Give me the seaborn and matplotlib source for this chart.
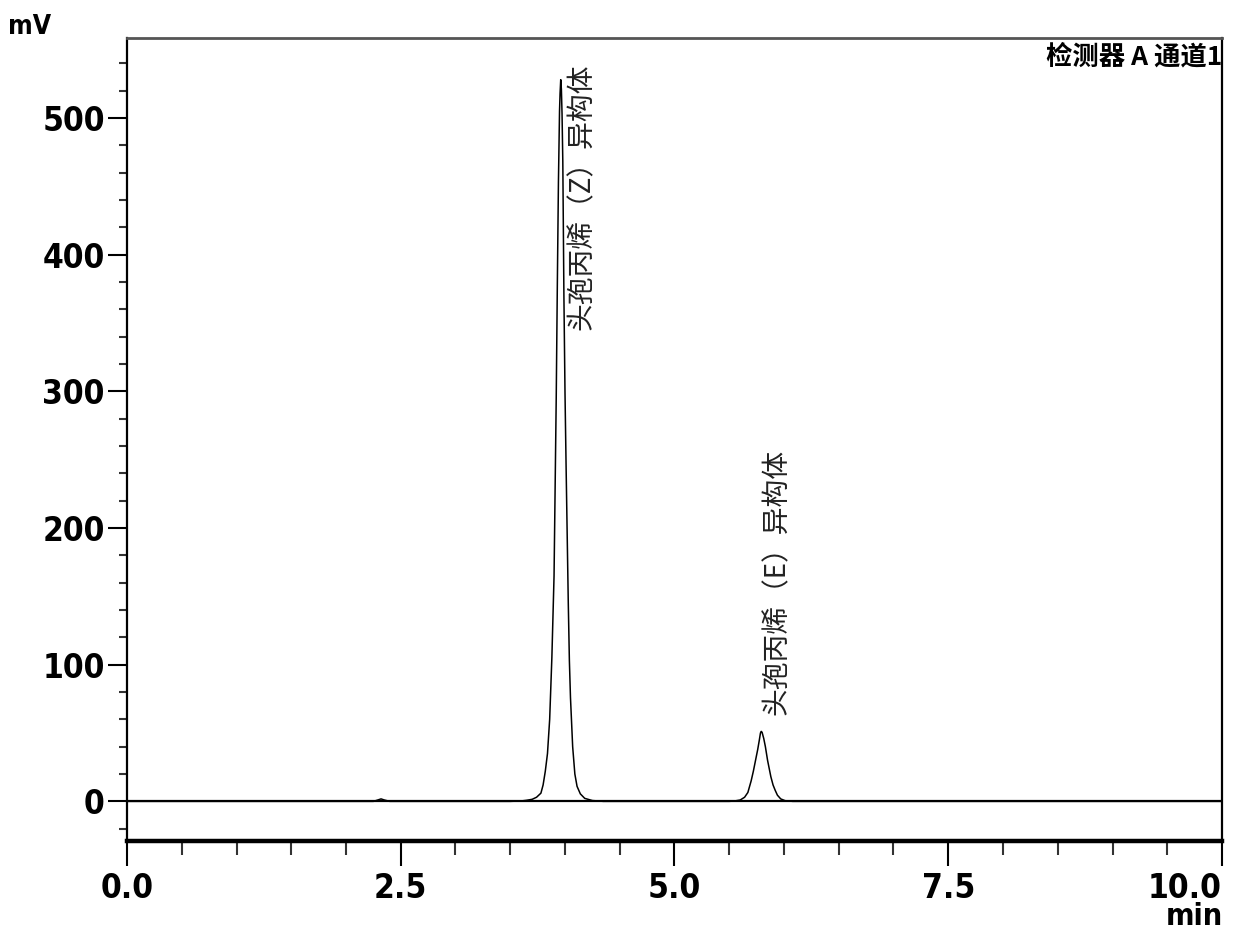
import pandas as pd
import matplotlib
matplotlib.use('Agg')
import matplotlib.pyplot as plt
import seaborn as sns
from matplotlib.ticker import MultipleLocator, FormatStrFormatter

# tracciato del cromatogramma (letto a occhio dal grafico)
time_min = [0.0, 1.50, 2.25, 2.29, 2.32, 2.35, 2.40,
            3.50, 3.60, 3.65, 3.70, 3.74, 3.78, 3.80, 3.82, 3.84, 3.86, 3.88,
            3.90, 3.92, 3.93, 3.94, 3.95, 3.955, 3.961, 3.967, 3.973, 3.98,
            3.99, 4.00, 4.01, 4.02, 4.03, 4.04, 4.05, 4.07, 4.09, 4.11, 4.14,
            4.18, 4.25, 4.35,
            5.50, 5.55, 5.60, 5.64, 5.67, 5.70, 5.72, 5.74, 5.76, 5.775, 5.785,
            5.792, 5.80, 5.815, 5.83, 5.85, 5.86, 5.88, 5.90, 5.92, 5.94, 5.97,
            6.01, 6.08, 10.0]
signal_mv = [0.0, 0.0, 0.0, 1.0, 1.8, 1.0, 0.0,
             0.0, 0.3, 0.8, 1.5, 3.0, 6.0, 12.0, 22.0, 35.0, 60.0, 105.0,
             165.0, 296.0, 378.0, 453.0, 505.0, 518.0, 528.0, 521.0, 503.0, 468.0,
             370.0, 299.0, 245.0, 195.0, 145.0, 103.0, 76.0, 40.0, 20.0, 11.0, 5.5,
             2.2, 0.6, 0.0,
             0.0, 0.3, 1.0, 3.0, 6.5, 15.0, 22.0, 30.0, 38.0, 45.0, 50.0,
             51.2, 50.5, 46.0, 40.0, 30.0, 26.0, 18.0, 12.0, 8.0, 4.5, 1.8,
             0.5, 0.0, 0.0]

peak_names = ['头孢丙烯（Z）异构体', '头孢丙烯（E）异构体']
peak_label_x = [4.15, 5.93]
peak_label_y = [345, 63]

x_ticks = [0.0, 2.5, 5.0, 7.5, 10.0]
y_ticks = [0, 100, 200, 300, 400, 500]

df = pd.DataFrame({'t': time_min, 'mV': signal_mv})

sns.set_style('white')
plt.rcParams['font.family'] = ['DejaVu Sans']
plt.rcParams['font.stretch'] = 'condensed'
plt.rcParams['text.color'] = 'black'
cjk = ['Noto Sans CJK SC', 'DejaVu Sans']

fig = plt.figure(figsize=(12.34, 9.33), dpi=100)
ax = fig.add_axes([127/1234, 92/933, 1095/1234, 803/933])

ax.axhline(0, color='black', lw=1.6)
sns.lineplot(x='t', y='mV', data=df, ax=ax, color='black', lw=1.1,
             estimator=None, sort=False)

ax.set_xlim(0, 10)
ax.set_ylim(-29, 558.5)
ax.set_xticks(x_ticks)
ax.set_yticks(y_ticks)
ax.xaxis.set_major_formatter(FormatStrFormatter('%.1f'))
ax.xaxis.set_minor_locator(MultipleLocator(0.5))
ax.yaxis.set_minor_locator(MultipleLocator(20))
ax.tick_params(axis='x', which='both', bottom=True, top=False)
ax.tick_params(axis='y', which='both', left=True, right=False)
ax.tick_params(axis='x', which='major', direction='out', length=18, width=1.5,
               labelsize=24, color='black', labelcolor='black', pad=4)
ax.tick_params(axis='x', which='minor', direction='out', length=10, width=1.5,
               color='#333333')
ax.tick_params(axis='y', which='major', direction='out', length=14, width=1.5,
               labelsize=24, color='black', labelcolor='black', pad=2)
ax.tick_params(axis='y', which='minor', direction='out', length=6, width=1.5,
               color='#333333')
for lab in ax.get_xticklabels() + ax.get_yticklabels():
    lab.set_fontweight('bold')
    lab.set_fontstretch('condensed')
ax.get_xticklabels()[-1].set_horizontalalignment('right')
ax.set_xlabel('')
ax.set_ylabel('')

for side in ['left', 'right']:
    ax.spines[side].set_linewidth(1.6)
    ax.spines[side].set_color('black')
ax.spines['top'].set_linewidth(2)
ax.spines['top'].set_color('#555555')
ax.spines['bottom'].set_linewidth(3.2)
ax.spines['bottom'].set_color('black')

# etichette dei picchi
for name, lx, ly in zip(peak_names, peak_label_x, peak_label_y):
    ax.text(lx, ly, name, rotation=90, ha='center', va='bottom',
            fontsize=20, family=cjk, color='#222222')

ax.text(1.0, 0.993, '检测器 A 通道1', transform=ax.transAxes, ha='right', va='top',
        fontsize=19, fontweight='bold', family=cjk, color='black')

fig.text(8/1234, 1 - 14/933, 'mV', ha='left', va='top', fontsize=19,
         fontweight='bold', fontstretch='condensed')
fig.text(1223/1234, 1 - 902/933, 'min', ha='right', va='top', fontsize=22,
         fontweight='bold', fontstretch='condensed')

fig.savefig('out.png', dpi=100)
